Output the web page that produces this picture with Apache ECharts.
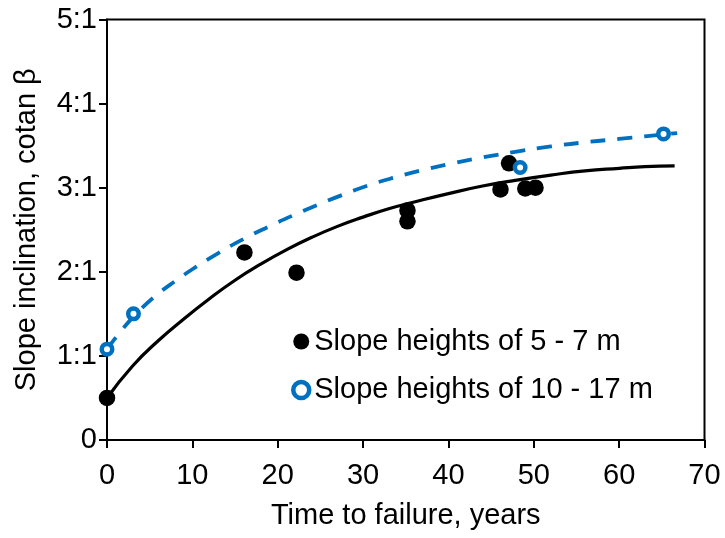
<!DOCTYPE html>
<html>
<head>
<meta charset="utf-8">
<script src="https://cdn.jsdelivr.net/npm/echarts@6/dist/echarts.min.js"></script>
<style>
  html, body { margin: 0; padding: 0; background: #fff; }
  #chart { width: 725px; height: 538px; }
</style>
</head>
<body>
<div id="chart"></div>
<script>
// Y tick labels written as slope ratios
const yTickLabels = ['0', '1:1', '2:1', '3:1', '4:1', '5:1'];

// Observed failures, slope heights of 5 - 7 m
const lowYears  = [0, 16.1, 22.2, 35.2, 35.2, 46.1, 47.1, 49.0, 50.2];
const lowValues = [0.50, 2.23, 1.99, 2.73, 2.60, 2.98, 3.29, 2.99, 3.00];

// Observed failures, slope heights of 10 - 17 m
const highYears  = [0, 3.1, 48.4, 65.2];
const highValues = [1.08, 1.50, 3.24, 3.64];

// Trend line for the 5 - 7 m slopes
const lowFitYears  = [0, 3, 6, 9, 12, 15, 18, 21, 24, 27, 30, 33, 36, 40, 44, 48, 52, 56, 60, 63, 66.5];
const lowFitValues = [0.50, 0.88, 1.18, 1.44, 1.68, 1.90, 2.09, 2.26, 2.41, 2.54, 2.65, 2.75, 2.83, 2.93, 3.02, 3.09, 3.15, 3.20, 3.23, 3.25, 3.26];

// Trend line for the 10 - 17 m slopes
const highFitYears  = [0, 2, 4, 6, 8, 10, 13, 16, 19, 22, 25, 28, 31, 34, 37, 40, 44, 48, 52, 56, 60, 63, 66.8];
const highFitValues = [1.08, 1.34, 1.56, 1.74, 1.89, 2.03, 2.22, 2.39, 2.54, 2.68, 2.81, 2.93, 3.04, 3.13, 3.21, 3.28, 3.36, 3.43, 3.49, 3.54, 3.58, 3.61, 3.65];

const seriesNames = ['Slope heights of 5 - 7 m', 'Slope heights of 10 - 17 m'];
const blue = '#0070C0';
const font = "'Liberation Sans', Arial, sans-serif";
const fs = 29;

const pairs = (xs, ys) => xs.map((x, i) => [x, ys[i]]);

const chart = echarts.init(document.getElementById('chart'), null, { renderer: 'canvas' });
chart.setOption({
  animation: false,
  backgroundColor: '#fff',
  textStyle: { fontFamily: font, color: '#000' },
  grid: {
    left: 107, right: 20.5, top: 19.5, bottom: 98,
    outerBoundsMode: 'none', containLabel: false,
    show: true, borderColor: '#000', borderWidth: 2, backgroundColor: 'transparent'
  },
  xAxis: {
    type: 'value', min: 0, max: 70, interval: 10,
    name: 'Time to failure, years', nameLocation: 'middle', nameGap: 61,
    nameMoveOverlap: false,
    nameTextStyle: { fontSize: fs, color: '#000', fontFamily: font },
    axisLine: { show: true, onZero: false, lineStyle: { color: '#000', width: 2 } },
    axisTick: { show: true, inside: false, length: 8, lineStyle: { color: '#000', width: 2 } },
    axisLabel: { fontSize: fs, color: '#000', fontFamily: font, margin: 21 },
    splitLine: { show: false }
  },
  yAxis: {
    type: 'value', min: 0, max: 5, interval: 1,
    name: 'Slope inclination, cotan β', nameLocation: 'middle', nameGap: 66, nameRotate: 90,
    nameMoveOverlap: false,
    nameTextStyle: { fontSize: fs, color: '#000', fontFamily: font },
    axisLine: { show: true, onZero: false, lineStyle: { color: '#000', width: 2 } },
    axisTick: { show: true, inside: false, length: 8, lineStyle: { color: '#000', width: 2 } },
    axisLabel: {
      fontSize: fs, color: '#000', fontFamily: font, margin: 10,
      formatter: v => yTickLabels[Math.round(v)]
    },
    splitLine: { show: false }
  },
  legend: {
    data: [
      { name: seriesNames[0], icon: 'circle', itemStyle: { color: '#000', borderWidth: 0 } },
      { name: seriesNames[1], icon: 'circle', itemStyle: { color: '#fff', borderColor: blue, borderWidth: 4.5 } }
    ],
    orient: 'vertical', left: 291, top: 326.5, padding: 0,
    itemWidth: 16, itemHeight: 16, itemGap: 18.6,
    textStyle: { fontSize: fs, color: '#000', fontFamily: font, lineHeight: 30 },
    selectedMode: false
  },
  series: [
    {
      name: 'fit-low', type: 'line', data: pairs(lowFitYears, lowFitValues),
      smooth: 0.5, showSymbol: false, silent: true, z: 2,
      lineStyle: { color: '#000', width: 3.2 }
    },
    {
      name: 'fit-high', type: 'line', data: pairs(highFitYears, highFitValues),
      smooth: 0.5, showSymbol: false, silent: true, z: 2,
      lineStyle: { color: blue, width: 3.8, type: [15, 12], cap: 'butt' }
    },
    {
      name: seriesNames[0], type: 'scatter', data: pairs(lowYears, lowValues),
      symbol: 'circle', symbolSize: 16.5, z: 3,
      itemStyle: { color: '#000', opacity: 1 }
    },
    {
      name: seriesNames[1], type: 'scatter', data: pairs(highYears, highValues),
      symbol: 'circle', symbolSize: 10.5, z: 4,
      itemStyle: { color: '#fff', borderColor: blue, borderWidth: 4.5, opacity: 1 }
    }
  ]
});
</script>
</body>
</html>
